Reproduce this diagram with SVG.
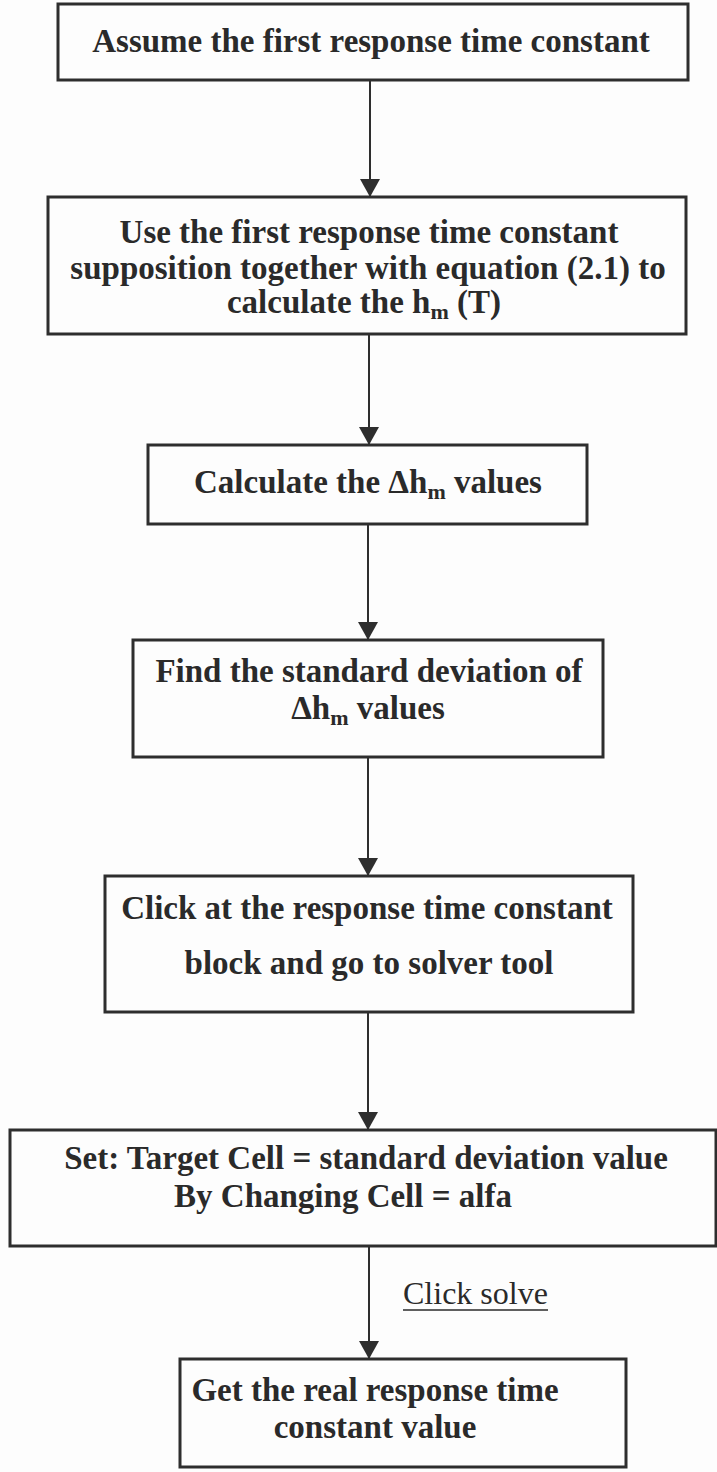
<svg xmlns="http://www.w3.org/2000/svg" width="717" height="1472" viewBox="0 0 717 1472">
<style>
.box{fill:#fdfdfd;stroke:#2e2e2e;stroke-width:3}
.t{font-family:"Liberation Serif","Times New Roman",serif;font-weight:bold;font-size:33px;fill:#2a2a2a;text-anchor:middle}
.sub{font-size:22px}
.lbl{font-family:"Liberation Serif","Times New Roman",serif;font-size:32px;fill:#2a2a2a}
.c{stroke:#2e2e2e;stroke-width:2;fill:none;marker-end:url(#ah)}
</style>
<defs>
<marker id="ah" markerUnits="userSpaceOnUse" markerWidth="18" markerHeight="20" refX="18" refY="10" orient="auto">
<path d="M0,0 L18,10 L0,20 Z" fill="#2e2e2e"/>
</marker>
</defs>
<rect width="717" height="1472" fill="#fdfdfd"/>
<g id="connectors">
<line class="c" x1="370" y1="80" x2="370" y2="197"/>
<line class="c" x1="369" y1="334" x2="369" y2="445"/>
<line class="c" x1="368" y1="524" x2="368" y2="640"/>
<line class="c" x1="368" y1="757" x2="368" y2="876"/>
<line class="c" x1="368" y1="1012" x2="368" y2="1130"/>
<line class="c" x1="369" y1="1246" x2="369" y2="1359"/>
<text class="lbl" x="403" y="1304">Click solve</text>
<line x1="403" y1="1310" x2="548" y2="1310" stroke="#2a2a2a" stroke-width="1.5"/>
</g>
<g id="n1">
<rect class="box" x="58" y="4" width="630" height="76"/>
<text class="t" x="371" y="52">Assume the first response time constant</text>
</g>
<g id="n2">
<rect class="box" x="48" y="197" width="638" height="137"/>
<text class="t" x="369" y="243">Use the first response time constant</text>
<text class="t" x="368" y="279">supposition together with equation (2.1) to</text>
<text class="t" x="364" y="313">calculate the h<tspan class="sub" dy="6">m</tspan><tspan dy="-6"> (T)</tspan></text>
</g>
<g id="n3">
<rect class="box" x="148" y="445" width="439" height="79"/>
<text class="t" x="368" y="493">Calculate the Δh<tspan class="sub" dy="6">m</tspan><tspan dy="-6"> values</tspan></text>
</g>
<g id="n4">
<rect class="box" x="133" y="640" width="470" height="117"/>
<text class="t" x="369" y="682">Find the standard deviation of</text>
<text class="t" x="368" y="719">Δh<tspan class="sub" dy="6">m</tspan><tspan dy="-6"> values</tspan></text>
</g>
<g id="n5">
<rect class="box" x="105" y="876" width="528" height="136"/>
<text class="t" x="367" y="919">Click at the response time constant</text>
<text class="t" x="369" y="974">block and go to solver tool</text>
</g>
<g id="n6">
<rect class="box" x="10" y="1130" width="706" height="116"/>
<text class="t" x="366" y="1169">Set: Target Cell = standard deviation value</text>
<text class="t" x="343" y="1207">By Changing Cell = alfa</text>
</g>
<g id="n7">
<rect class="box" x="180" y="1359" width="446" height="108"/>
<text class="t" x="375" y="1401">Get the real response time</text>
<text class="t" x="375" y="1438">constant value</text>
</g>
</svg>
